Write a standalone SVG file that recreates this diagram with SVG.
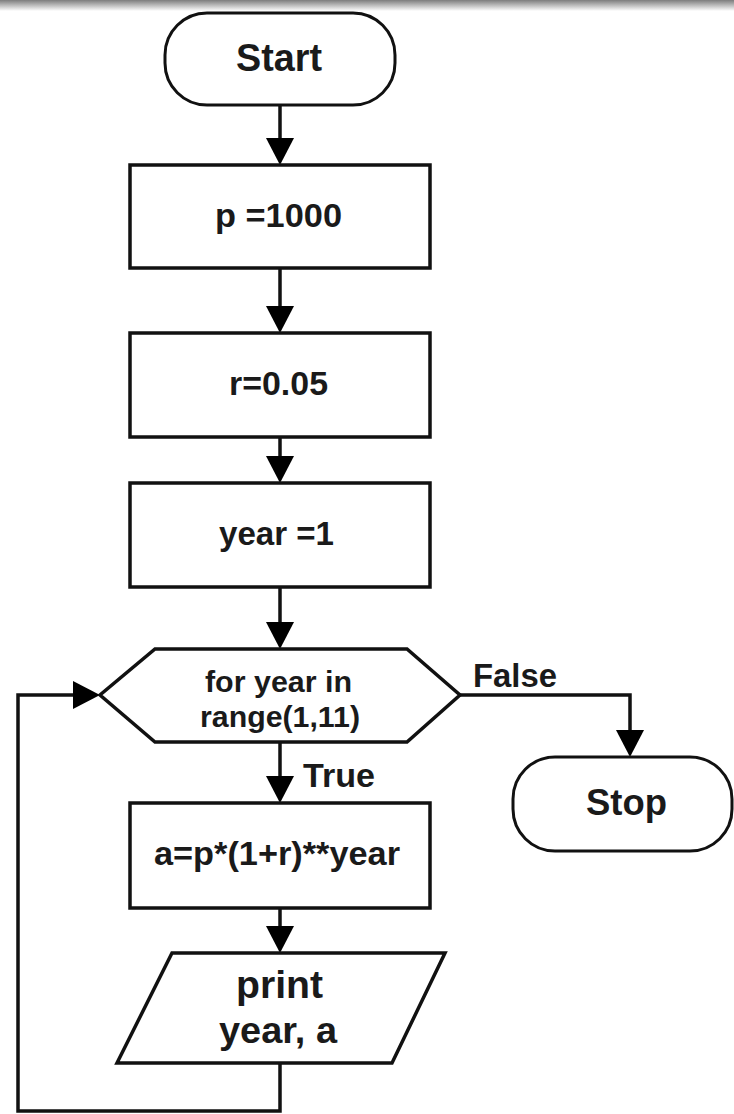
<svg xmlns="http://www.w3.org/2000/svg" width="734" height="1114" viewBox="0 0 734 1114">
<defs>
<linearGradient id="topShade" x1="0" y1="0" x2="0" y2="1">
<stop offset="0" stop-color="#7d7d7d"/>
<stop offset="1" stop-color="#ffffff"/>
</linearGradient>
<marker id="arrow" markerUnits="userSpaceOnUse" viewBox="0 0 27 28" refX="23" refY="14" markerWidth="27" markerHeight="28" orient="auto">
<path d="M0,0 L27,14 L0,28 Z" fill="#000"/>
</marker>
<style>
.shape{fill:#fff;stroke:#111;stroke-width:3.5;}
.term{fill:#fff;stroke:#111;stroke-width:3;}
.conn{fill:none;stroke:#111;stroke-width:3.5;marker-end:url(#arrow);}
text{font-family:"Liberation Sans",Arial,sans-serif;font-weight:bold;fill:#1a1a1a;}
</style>
</defs>
<rect width="734" height="1114" fill="#fff"/>
<rect x="0" y="0" width="734" height="11" fill="url(#topShade)"/>

<g id="connectors">
<path class="conn" d="M280,105 V161"/>
<path class="conn" d="M280,268 V329"/>
<path class="conn" d="M280,437 V479"/>
<path class="conn" d="M280,587 V645"/>
<path class="conn" d="M280,742 V799"/>
<path class="conn" d="M280,908 V949"/>
<path class="conn" d="M460,695 H630 V753"/>
<path class="conn" d="M280,1063 V1111 H18 V695 H96"/>
<text x="303" y="787" font-size="34" textLength="72" lengthAdjust="spacingAndGlyphs">True</text>
<text x="473" y="687" font-size="33" textLength="84" lengthAdjust="spacingAndGlyphs">False</text>
</g>

<g id="start">
<rect class="term" x="165" y="13" width="230" height="92" rx="42" ry="42"/>
<text x="236" y="71" font-size="38" textLength="86" lengthAdjust="spacingAndGlyphs">Start</text>
</g>

<g id="set-p">
<rect class="shape" x="130" y="165" width="300" height="103"/>
<text x="215" y="227" font-size="34" textLength="127" lengthAdjust="spacingAndGlyphs">p =1000</text>
</g>

<g id="set-r">
<rect class="shape" x="130" y="333" width="300" height="104"/>
<text x="229" y="395" font-size="34" textLength="99" lengthAdjust="spacingAndGlyphs">r=0.05</text>
</g>

<g id="set-year">
<rect class="shape" x="130" y="483" width="300" height="104"/>
<text x="219" y="545" font-size="34" textLength="115" lengthAdjust="spacingAndGlyphs">year =1</text>
</g>

<g id="loop">
<polygon class="shape" points="155,649 407,649 460,695 407,742 155,742 100,695"/>
<text x="205" y="692" font-size="29" textLength="147" lengthAdjust="spacingAndGlyphs">for year in</text>
<text x="200" y="727" font-size="29" textLength="160" lengthAdjust="spacingAndGlyphs">range(1,11)</text>
</g>

<g id="calc">
<rect class="shape" x="130" y="803" width="300" height="105"/>
<text x="154" y="865" font-size="34" textLength="246" lengthAdjust="spacingAndGlyphs">a=p*(1+r)**year</text>
</g>

<g id="print">
<polygon class="shape" points="172,953 445,953 392,1063 117,1063"/>
<text x="236" y="998" font-size="38" textLength="87" lengthAdjust="spacingAndGlyphs">print</text>
<text x="219" y="1043" font-size="37" textLength="118" lengthAdjust="spacingAndGlyphs">year, a</text>
</g>

<g id="stop">
<rect class="term" x="513" y="757" width="219" height="94" rx="42" ry="42"/>
<text x="586" y="815" font-size="37" textLength="81" lengthAdjust="spacingAndGlyphs">Stop</text>
</g>
</svg>
